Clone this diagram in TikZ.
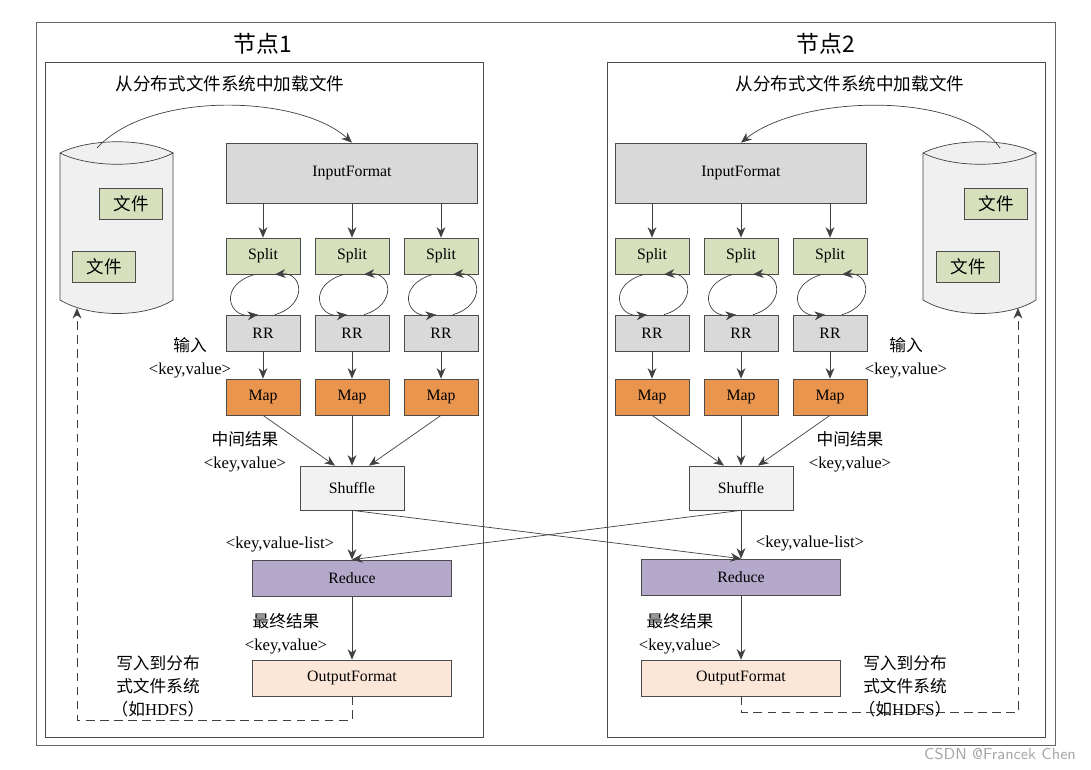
\documentclass[tikz,border=0pt]{standalone}
\usepackage{fontspec}
\setmainfont{Liberation Serif}
\newfontfamily\cjk{Noto Sans CJK SC}
\usetikzlibrary{arrows.meta}
\definecolor{splitg}{HTML}{D7E0BC}
\definecolor{mapo}{HTML}{E9954E}
\definecolor{redp}{HTML}{B4A9CB}
\definecolor{outp}{HTML}{FBE6D8}
\tikzset{
  box/.style={draw=black!70, minimum width=#1*0.02cm, inner sep=0pt, font=\fontsize{9}{10}\selectfont},
  small/.style={box=74, minimum height=0.72cm},
  arr/.style={-{Stealth[length=6pt,width=5pt]}, draw=black!75},
  lbl/.style={font=\fontsize{9.5}{11}\selectfont, align=center, inner sep=0pt},
}
\begin{document}
\begin{tikzpicture}[x=0.02cm, y=-0.02cm]
\useasboundingbox (0,0) rectangle (1091,769);
% frames
\draw[black!60] (36,22) rectangle (1055,745);
\draw[black!70] (45,62) rectangle (483,737);
\draw[black!70] (607,62) rectangle (1045,737);
\node[lbl, font=\cjk\fontsize{13}{15}\selectfont] (t1) at (263,44) {节点1};
\node[lbl, font=\cjk\fontsize{13}{15}\selectfont] (t2) at (826,44) {节点2};
\node[lbl, font=\cjk\fontsize{10}{12}\selectfont] (ld1) at (230,84) {从分布式文件系统中加载文件};
\node[lbl, font=\cjk\fontsize{10}{12}\selectfont] (ld2) at (850,84) {从分布式文件系统中加载文件};

% disks
\foreach \dx/\n in {0/1,863/2}{
  \begin{scope}[xshift=\dx*0.02cm]
  \fill[black!6] (60,153) .. controls (90,138) and (145,138) .. (173,153) -- (173,300)
     .. controls (145,318) and (90,318) .. (60,300) -- cycle;
  \draw[black!75] (60,153) .. controls (90,138) and (145,138) .. (173,153)
     .. controls (145,168) and (90,168) .. (60,153) -- (60,300)
     .. controls (90,318) and (145,318) .. (173,300) -- (173,153);
  \coordinate (disk\n-top) at (116,146);
  \end{scope}
}
\node[box=63, minimum height=0.62cm, fill=splitg, font=\cjk\fontsize{10}{12}\selectfont] (f1a) at (131,204) {文件};
\node[box=63, minimum height=0.62cm, fill=splitg, font=\cjk\fontsize{10}{12}\selectfont] (f1b) at (104,267) {文件};
\node[box=63, minimum height=0.62cm, fill=splitg, font=\cjk\fontsize{10}{12}\selectfont] (f2a) at (996,204) {文件};
\node[box=63, minimum height=0.62cm, fill=splitg, font=\cjk\fontsize{10}{12}\selectfont] (f2b) at (968,267) {文件};

% node columns
\foreach \c/\n/\lx in {352/1/0,741/2/1}{
  \node[box=251, minimum height=1.2cm, fill=black!15] (in\n) at (\c,173) {InputFormat};
  \foreach \o/\k in {-89/a,0/b,89/c}{
    \node[small, fill=splitg] (sp\n\k) at (\c+\o,256) {Split};
    \node[small, fill=black!15] (rr\n\k) at (\c+\o,333) {RR};
    \node[small, fill=mapo] (mp\n\k) at (\c+\o,397) {Map};
    \draw[arr] (in\n.south -| sp\n\k) -- (sp\n\k);
    \draw[arr] (rr\n\k) -- (mp\n\k);
    \draw[arr] ([xshift=-8*0.02cm]sp\n\k.south) .. controls (\c+\o-45,285) and (\c+\o-35,318) .. ([xshift=-5*0.02cm]rr\n\k.north);
    \draw[arr] ([xshift=12*0.02cm]rr\n\k.north) .. controls (\c+\o+45,305) and (\c+\o+40,272) .. ([xshift=12*0.02cm]sp\n\k.south);
  }
  \node[box=104, minimum height=0.88cm, fill=black!5] (sh\n) at (\c,488) {Shuffle};
  \draw[arr] (mp\n a.south) -- ([xshift=-17*0.02cm]sh\n.north);
  \draw[arr] (mp\n b.south) -- (sh\n.north);
  \draw[arr] (mp\n c.south) -- ([xshift=17*0.02cm]sh\n.north);
  \node[box=199, minimum height=0.72cm, fill=redp] (rd\n) at (\c,578-\lx) {Reduce};
  \node[box=199, minimum height=0.72cm, fill=outp] (of\n) at (\c,678) {OutputFormat};
  \draw[arr] (sh\n) -- (rd\n);
  \draw[arr] (rd\n) -- (of\n);
}
\draw[arr] (sh1.south) -- (rd2.north);
\draw[arr] (sh2.south) -- (rd1.north);

% load arrows
\draw[arr] (97,148) .. controls (150,90) and (300,95) .. (in1.north);
\draw[arr] (1000,148) .. controls (960,90) and (800,95) .. (in2.north);

% write-back
\coordinate (w1a) at (352,720);
\coordinate (w1b) at (77,720);
\coordinate (w2a) at (741,712);
\coordinate (w2b) at (1018,712);
\draw[arr, dashed, dash pattern=on 5pt off 3pt] (of1.south) -- (w1a) -- (w1b) -- (77,308);
\draw[arr, dashed, dash pattern=on 5pt off 3pt] (of2.south) -- (w2a) -- (w2b) -- (1018,308);

% labels
\node[lbl] (i1) at (190,358) {{\cjk 输入}\\[2pt]<key,value>};
\node[lbl] (i2) at (906,358) {{\cjk 输入}\\[2pt]<key,value>};
\node[lbl] (m1) at (245,452) {{\cjk 中间结果}\\[2pt]<key,value>};
\node[lbl] (m2) at (850,452) {{\cjk 中间结果}\\[2pt]<key,value>};
\node[lbl] (k1) at (280,544) {<key,value-list>};
\node[lbl] (k2) at (810,543) {<key,value-list>};
\node[lbl] (r1) at (286,634) {{\cjk 最终结果}\\[2pt]<key,value>};
\node[lbl] (r2) at (680,634) {{\cjk 最终结果}\\[2pt]<key,value>};
\node[lbl] (h1) at (158,686) {{\cjk 写入到分布}\\[2pt]{\cjk 式文件系统}\\[2pt]{\cjk （如}HDFS{\cjk ）}};
\node[lbl] (h2) at (905,686) {{\cjk 写入到分布}\\[2pt]{\cjk 式文件系统}\\[2pt]{\cjk （如}HDFS{\cjk ）}};
\node[lbl, font=\sffamily\fontsize{9}{10}\selectfont, text=black!35] (wm) at (1000,754) {CSDN @Francek Chen};
\end{tikzpicture}
\end{document}
